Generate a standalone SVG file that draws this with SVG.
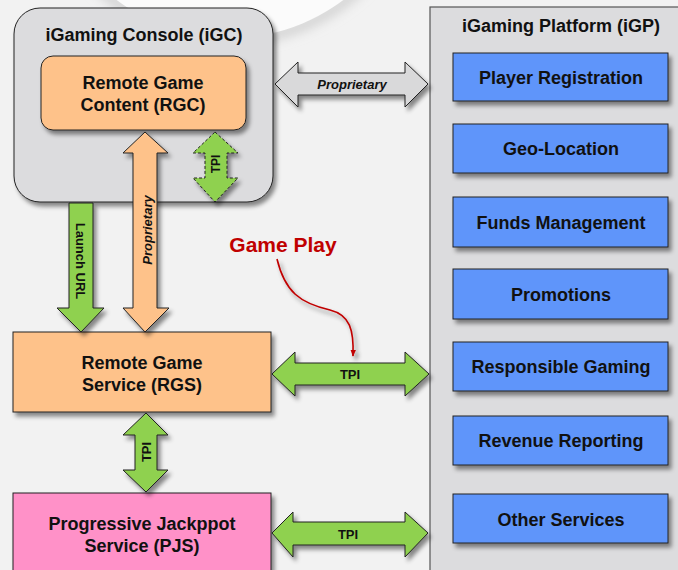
<svg xmlns="http://www.w3.org/2000/svg" width="678" height="570" viewBox="0 0 678 570">
<defs>
<filter id="sh" x="-20%" y="-20%" width="150%" height="150%">
<feDropShadow dx="3" dy="4" stdDeviation="2.2" flood-color="#000" flood-opacity="0.45"/>
</filter>
<filter id="blur" x="-20%" y="-20%" width="140%" height="140%">
<feGaussianBlur stdDeviation="6"/>
</filter>
<marker id="ah" viewBox="0 0 10 10" refX="9" refY="5" markerWidth="7" markerHeight="7" orient="auto" markerUnits="userSpaceOnUse">
<path d="M0,1 L10,5 L0,9 Z" fill="#c00000"/>
</marker>
<style>
.t{font-family:"Liberation Sans",Arial,sans-serif;font-weight:bold;fill:#111;text-anchor:middle}
.big{font-size:18px}
.sm{font-size:13px}
.it{font-style:italic}
.box{stroke:#222;stroke-width:1}
.blue{fill:#5f95fa;stroke:#222;stroke-width:1}
.green{fill:#8fd14f;stroke:#222;stroke-width:1}
.orange{fill:#fec28a;stroke:#222;stroke-width:1}
.gray{fill:#d9d9da;stroke:#222;stroke-width:1}
</style>
</defs>
<rect x="0" y="0" width="678" height="570" fill="#f2f2f2"/>
<circle cx="230" cy="-150" r="190" fill="none" stroke="#c8c8c8" stroke-width="8" filter="url(#blur)"/>
<circle cx="230" cy="-150" r="188" fill="#fbfbfb"/>

<g id="iGC">
<rect x="14" y="8" width="259" height="194" rx="26" fill="#dcdcde" class="box" filter="url(#sh)"/>
<text class="t big" x="144" y="41">iGaming Console (iGC)</text>
</g>
<g id="RGC">
<rect x="41" y="56" width="205" height="74" rx="12" class="orange" filter="url(#sh)"/>
<text class="t big" x="143" y="89">Remote Game</text>
<text class="t big" x="143" y="111">Content (RGC)</text>
</g>

<g id="iGP">
<rect x="430" y="7" width="260" height="570" fill="#dcdcde" stroke="#555" stroke-width="1.2"/>
<text class="t big" x="561" y="32">iGaming Platform (iGP)</text>
</g>
<g id="player-registration"><rect x="453" y="53" width="215" height="48" class="blue" filter="url(#sh)"/><text class="t big" x="561" y="84">Player Registration</text></g>
<g id="geo-location"><rect x="453" y="124" width="215" height="49" class="blue" filter="url(#sh)"/><text class="t big" x="561" y="155">Geo-Location</text></g>
<g id="funds-management"><rect x="453" y="197" width="215" height="50" class="blue" filter="url(#sh)"/><text class="t big" x="561" y="229">Funds Management</text></g>
<g id="promotions"><rect x="453" y="269" width="215" height="50" class="blue" filter="url(#sh)"/><text class="t big" x="561" y="301">Promotions</text></g>
<g id="responsible-gaming"><rect x="453" y="342" width="215" height="49" class="blue" filter="url(#sh)"/><text class="t big" x="561" y="373">Responsible Gaming</text></g>
<g id="revenue-reporting"><rect x="453" y="416" width="215" height="49" class="blue" filter="url(#sh)"/><text class="t big" x="561" y="447">Revenue Reporting</text></g>
<g id="other-services"><rect x="453" y="494" width="215" height="49" class="blue" filter="url(#sh)"/><text class="t big" x="561" y="526">Other Services</text></g>

<g id="RGS">
<rect x="13" y="332" width="258" height="80" fill="#fec28a" class="box" filter="url(#sh)"/>
<text class="t big" x="142" y="369">Remote Game</text>
<text class="t big" x="142" y="391">Service (RGS)</text>
</g>
<g id="PJS">
<rect x="13" y="493" width="258" height="90" fill="#ff91c8" class="box" filter="url(#sh)"/>
<text class="t big" x="142" y="530">Progressive Jackppot</text>
<text class="t big" x="142" y="552">Service (PJS)</text>
</g>

<g id="connectors">
<path class="gray" filter="url(#sh)" d="M275,84 L298,62 L298,73 L405,73 L405,62 L428,84 L405,107 L405,95 L298,95 L298,107 Z"/>
<text class="t sm it" x="352" y="89">Proprietary</text>

<path class="green" stroke-dasharray="3,2" filter="url(#sh)" d="M215,132 L238,153 L227,153 L227,178 L238,178 L215,202 L193,178 L205,178 L205,153 L193,153 Z"/>
<text class="t" font-size="12" transform="translate(220,164) rotate(-90)">TPI</text>

<path class="green" filter="url(#sh)" d="M69,203 L93,203 L93,308 L104,308 L81,332 L57,308 L69,308 Z"/>
<text class="t sm" transform="translate(76,261) rotate(90)">Launch URL</text>

<path class="orange" filter="url(#sh)" d="M145,132 L168,153 L157,153 L157,308 L169,308 L145,332 L123,308 L133,308 L133,153 L123,153 Z"/>
<text class="t sm it" transform="translate(152,230) rotate(-90)">Proprietary</text>

<path class="green" filter="url(#sh)" d="M272,374 L295,352 L295,363 L405,363 L405,352 L429,374 L405,396 L405,385 L295,385 L295,396 Z"/>
<text class="t sm" x="350" y="379">TPI</text>

<path class="green" filter="url(#sh)" d="M146,413 L168,435 L157,435 L157,470 L168,470 L146,492 L123,470 L135,470 L135,435 L123,435 Z"/>
<text class="t sm" transform="translate(151,452) rotate(-90)">TPI</text>

<path class="green" filter="url(#sh)" d="M272,533 L293,512 L293,522 L405,522 L405,512 L428,533 L405,557 L405,545 L293,545 L293,557 Z"/>
<text class="t sm" x="348" y="539">TPI</text>

<path d="M277,259 C285,292 300,303 330,310 C350,315 354,330 353,356" fill="none" stroke="#c00000" stroke-width="1.6" marker-end="url(#ah)" filter="url(#sh)"/>
<text class="t" x="283" y="252" font-size="21" style="fill:#c00000">Game Play</text>
</g>
</svg>
